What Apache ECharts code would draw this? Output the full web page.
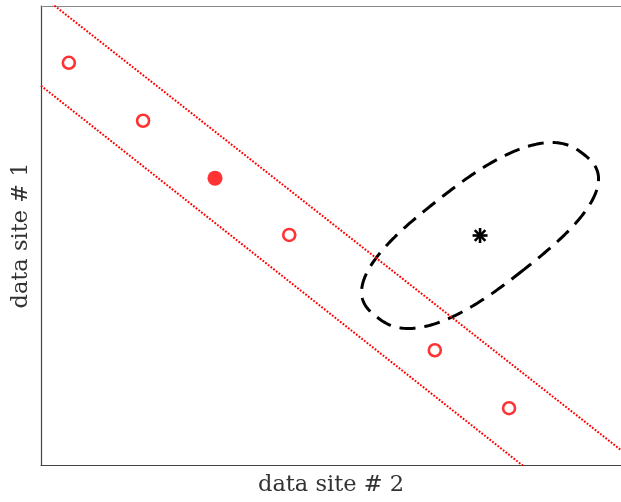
<!DOCTYPE html>
<html>
<head>
<meta charset="utf-8">
<script src="https://cdn.jsdelivr.net/npm/echarts@6/dist/echarts.min.js"></script>
<style>
  html, body { margin: 0; padding: 0; background: #fff; }
  #chart { width: 621px; height: 502px; }
</style>
</head>
<body>
<div id="chart"></div>
<script>
// Sample sites (open circles) lying along the band
const sampleX = [0.48, 1.76, 4.28, 6.79, 8.07];
const sampleY = [7.01, 6.00, 4.01, 2.00, 0.99];

// Selected sample (filled circle)
const selectedX = [3.00];
const selectedY = [5.00];

// Query point (asterisk)
const queryPoint = [7.57, 4.00];

// Band edges: two points each, [x, y]
const upperEdge = [[0, 8.19], [10, 0.26]];
const lowerEdge = [[0, 6.61], [10, -1.36]];

// Rounded region around the query point: centre, two half-axis vectors
// (long and short, in data units) and the superellipse exponent
const regionCenter = [7.57, 4.00];
const regionAxisLong = [1.78, 1.42];
const regionAxisShort = [0.76, -0.59];
const regionExponent = 2.6;

// Axis titles
const xTitle = 'data site # 2';
const yTitle = 'data site # 1';

const RED = '#ff0000';
const FONT = "'DejaVu Serif', 'Liberation Serif', serif";

const chart = echarts.init(document.getElementById('chart'), null, { renderer: 'canvas' });

function regionOutline(params, api) {
  const pts = [];
  const n = 360;
  const e = 2 / regionExponent;
  for (let i = 0; i <= n; i++) {
    const s = 2 * Math.PI * i / n + Math.PI / 2;
    const c = Math.cos(s), sn = Math.sin(s);
    const a = Math.sign(c) * Math.pow(Math.abs(c), e);
    const b = Math.sign(sn) * Math.pow(Math.abs(sn), e);
    const x = regionCenter[0] + a * regionAxisLong[0] + b * regionAxisShort[0];
    const y = regionCenter[1] + a * regionAxisLong[1] + b * regionAxisShort[1];
    pts.push(api.coord([x, y]));
  }
  return {
    type: 'polyline',
    shape: { points: pts },
    style: { stroke: '#000', fill: null, lineWidth: 3, lineDash: [16, 9] },
    silent: true
  };
}

function asteriskMark(params, api) {
  const c = api.coord([api.value(0), api.value(1)]);
  const r = 7.5;
  const children = [];
  for (let k = 0; k < 4; k++) {
    const a = k * Math.PI / 4;
    children.push({
      type: 'line',
      shape: {
        x1: c[0] - r * Math.cos(a), y1: c[1] - r * Math.sin(a),
        x2: c[0] + r * Math.cos(a), y2: c[1] + r * Math.sin(a)
      },
      style: { stroke: '#000', lineWidth: 2.6 }
    });
  }
  return { type: 'group', children: children };
}

const hiddenAxisParts = {
  axisTick: { show: false },
  axisLabel: { show: false },
  splitLine: { show: false }
};

const nameStyle = { fontFamily: FONT, fontSize: 22.5, color: '#333' };

chart.setOption({
  animation: false,
  backgroundColor: '#fff',
  grid: { left: 41, right: 0, top: 6, bottom: 35, containLabel: false },
  xAxis: [
    Object.assign({
      type: 'value', min: 0, max: 10, position: 'bottom',
      axisLine: { show: true, onZero: false, lineStyle: { color: '#444', width: 1.2 } },
      name: xTitle, nameLocation: 'middle', nameGap: 9,
      nameTextStyle: Object.assign({ verticalAlign: 'top' }, nameStyle)
    }, hiddenAxisParts),
    Object.assign({
      type: 'value', min: 0, max: 10, position: 'top',
      axisLine: { show: true, onZero: false, lineStyle: { color: '#888', width: 1 } }
    }, hiddenAxisParts)
  ],
  yAxis: [
    Object.assign({
      type: 'value', min: 0, max: 8, position: 'left',
      axisLine: { show: true, onZero: false, lineStyle: { color: '#444', width: 1.2 } },
      name: yTitle, nameLocation: 'middle', nameGap: 8,
      nameTextStyle: nameStyle
    }, hiddenAxisParts)
  ],
  series: [
    {
      type: 'line', data: upperEdge, symbol: 'none', clip: true, silent: true,
      lineStyle: { color: RED, width: 2, type: [1.8, 1.6], cap: 'butt' }
    },
    {
      type: 'line', data: lowerEdge, symbol: 'none', clip: true, silent: true,
      lineStyle: { color: RED, width: 2, type: [1.8, 1.6], cap: 'butt' }
    },
    {
      type: 'custom', renderItem: regionOutline, data: [regionCenter], clip: true, silent: true
    },
    {
      type: 'scatter',
      data: sampleX.map((x, i) => [x, sampleY[i]]),
      symbol: 'circle', symbolSize: 12, silent: true,
      itemStyle: { color: '#fff', borderColor: RED, borderWidth: 2.6 }
    },
    {
      type: 'scatter',
      data: selectedX.map((x, i) => [x, selectedY[i]]),
      symbol: 'circle', symbolSize: 15, silent: true,
      itemStyle: { color: RED }
    },
    {
      type: 'custom', renderItem: asteriskMark, data: [queryPoint], silent: true
    }
  ]
});
</script>
</body>
</html>
